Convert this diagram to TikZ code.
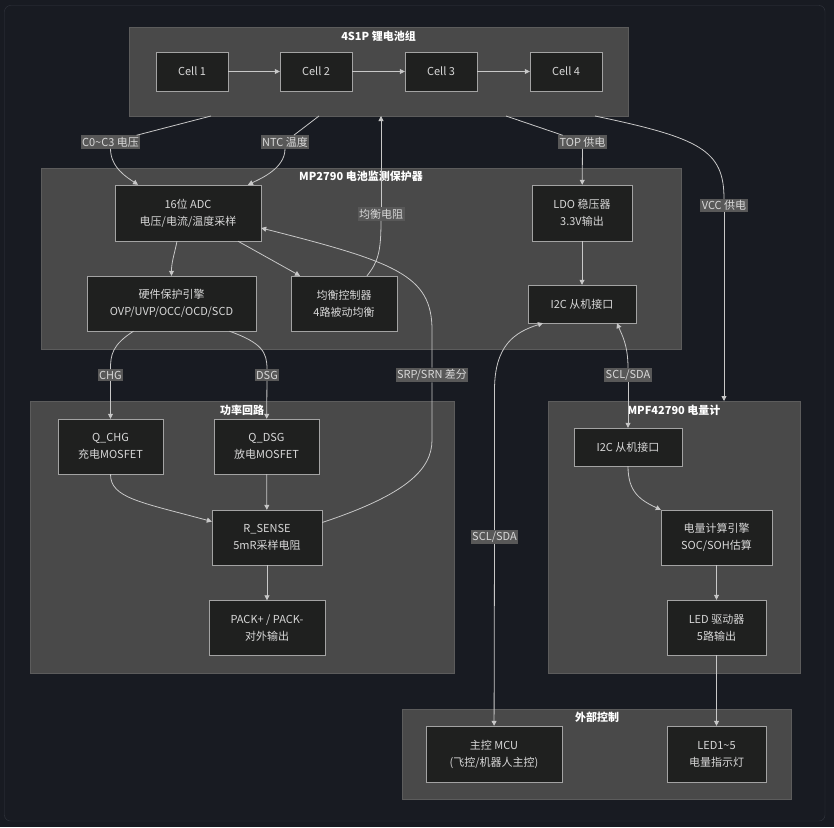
\documentclass[tikz,border=0pt]{standalone}
\usepackage{fontspec}
\setmainfont{Noto Sans CJK SC}
\usetikzlibrary{arrows.meta}
\definecolor{bg}{HTML}{181B22}
\definecolor{frame}{HTML}{33373F}
\definecolor{grpfill}{HTML}{494949}
\definecolor{grpline}{HTML}{5C5C5C}
\definecolor{boxfill}{HTML}{1F201F}
\definecolor{boxline}{HTML}{A3A3A3}
\definecolor{txt}{HTML}{D8D8D8}
\definecolor{edge}{HTML}{C8C8C8}
\definecolor{lblfill}{HTML}{585858}
\begin{document}
\begin{tikzpicture}[x=1pt,y=-1pt,
    font=\fontsize{11}{17}\selectfont,
    grp/.style={draw=grpline,fill=grpfill,inner sep=0pt},
    ttl/.style={text=white,inner sep=1pt,font=\fontsize{11}{17}\selectfont\bfseries},
    box/.style={draw=boxline,fill=boxfill,text=txt,align=center,minimum height=55pt,inner sep=0pt},
    lbl/.style={fill=lblfill,text=txt,inner sep=1.5pt},
    ln/.style={draw=edge,line width=0.8pt},
    arr/.style={ln,-{Triangle[length=5pt,width=5pt]}}]
    \fill[bg] (0,0) rectangle (834,827);
    \draw[frame,rounded corners=6pt] (4.5,5.5) rectangle (825,821);

    \node[grp,minimum width=499pt,minimum height=89pt] (gb) at (378.5,71.5) {};
    \node[ttl] (tb) at (378.5,36) {4S1P 锂电池组};
    \node[grp,minimum width=640pt,minimum height=181pt] (gm) at (361,258.5) {};
    \node[ttl] (tm) at (361,176) {MP2790 电池监测保护器};
    \node[grp,minimum width=424pt,minimum height=272pt] (gp) at (242,537) {};
    \node[ttl] (tp) at (242,410) {功率回路};
    \node[grp,minimum width=252pt,minimum height=272pt] (gf) at (674,537) {};
    \node[ttl] (tf) at (674,410) {MPF42790 电量计};
    \node[grp,minimum width=389pt,minimum height=90pt] (ge) at (596.5,754) {};
    \node[ttl] (te) at (597,717) {外部控制};

    \node[box,minimum width=72pt,minimum height=39pt] (c1) at (192,71.5) {Cell 1};
    \node[box,minimum width=72pt,minimum height=39pt] (c2) at (316,71.5) {Cell 2};
    \node[box,minimum width=72pt,minimum height=39pt] (c3) at (441,71.5) {Cell 3};
    \node[box,minimum width=72pt,minimum height=39pt] (c4) at (566,71.5) {Cell 4};
    \node[box,minimum width=146pt,minimum height=56pt] (adc) at (188,213) {16位 ADC\\电压/电流/温度采样};
    \node[box,minimum width=169pt] (prot) at (171.5,303.5) {硬件保护引擎\\OVP/UVP/OCC/OCD/SCD};
    \node[box,minimum width=106pt] (bal) at (344,303.5) {均衡控制器\\4路被动均衡};
    \node[box,minimum width=100pt,minimum height=56pt] (ldo) at (582,213) {LDO 稳压器\\3.3V输出};
    \node[box,minimum width=108pt,minimum height=38pt] (ia) at (582,304) {I2C 从机接口};
    \node[box,minimum width=105pt] (qc) at (110.5,446.5) {Q\_CHG\\充电MOSFET};
    \node[box,minimum width=105pt] (qd) at (266.5,446.5) {Q\_DSG\\放电MOSFET};
    \node[box,minimum width=110pt] (rs) at (267,537.5) {R\_SENSE\\5mR采样电阻};
    \node[box,minimum width=116pt] (pk) at (267,628) {PACK+ / PACK-\\对外输出};
    \node[box,minimum width=108pt,minimum height=38pt] (ib) at (628,447) {I2C 从机接口};
    \node[box,minimum width=111pt] (soc) at (716.5,537.5) {电量计算引擎\\SOC/SOH估算};
    \node[box,minimum width=99pt] (drv) at (716.5,627.5) {LED 驱动器\\5路输出};
    \node[box,minimum width=136pt,minimum height=56pt] (mcu) at (494,754) {主控 MCU\\(飞控/机器人主控)};
    \node[box,minimum width=99pt,minimum height=56pt] (led) at (716.5,754) {LED1\textasciitilde5\\电量指示灯};

    \node[lbl] (l1) at (110.5,142) {C0\textasciitilde{}C3 电压};
    \node[lbl] (l2) at (285,142) {NTC 温度};
    \node[lbl] (l3) at (582.5,142) {TOP 供电};
    \node[lbl] (l4) at (724,205.5) {VCC 供电};
    \node[lbl] (l5) at (381,214) {均衡电阻};
    \node[lbl] (l6) at (110.5,375) {CHG};
    \node[lbl] (l7) at (267,375) {DSG};
    \node[lbl] (l8) at (432,375) {SRP/SRN 差分};
    \node[lbl] (l9) at (628,375) {SCL/SDA};
    \node[lbl] (l10) at (494.5,537) {SCL/SDA};

    \coordinate (b1) at (211,116);
    \coordinate (b2) at (319,116);
    \coordinate (b3) at (381,116);
    \coordinate (b4) at (506,116);
    \coordinate (b5) at (595,116);
    \coordinate (f1) at (724,401);

    \draw[arr] (c1) -- (c2);
    \draw[arr] (c2) -- (c3);
    \draw[arr] (c3) -- (c4);
    \draw[ln] (b1) -- (l1);
    \draw[arr] (l1.south) .. controls (110.5,168) and (128,178) .. ([xshift=-50pt]adc.north);
    \draw[ln] (b2) -- (l2);
    \draw[arr] (l2.south) .. controls (285,168) and (262,178) .. ([xshift=60pt]adc.north);
    \draw[ln] (b4) -- (l3);
    \draw[arr] (l3) -- (ldo);
    \draw[ln] (b5) .. controls (700,138) and (724,150) .. (l4.north);
    \draw[arr] (l4) -- (f1);
    \draw[ln] ([xshift=23pt]bal.north) .. controls (378,262) and (381,252) .. (l5.south);
    \draw[arr] (l5) -- (b3);
    \draw[arr] ([xshift=-11pt]adc.south) .. controls (174,256) and (171.5,262) .. (prot.north);
    \draw[arr] ([xshift=50pt]adc.south) -- ([xshift=-44pt]bal.north);
    \draw[arr] (ldo) -- (ia);
    \draw[ln] ([xshift=-38pt]prot.south) .. controls (112,345) and (110.5,355) .. (l6.north);
    \draw[arr] (l6) -- (qc);
    \draw[ln] ([xshift=58pt]prot.south) .. controls (262,343) and (267,352) .. (l7.north);
    \draw[arr] (l7) -- (qd);
    \draw[ln] ([yshift=15pt]rs.east) .. controls (405,495) and (432,470) .. (432,440) -- (l8.south);
    \draw[arr] (l8.north) -- (432,330) .. controls (432,275) and (395,262) .. ([yshift=-15pt]adc.east);
    \draw[arr] (qc.south) .. controls (110.5,498) and (140,502) .. ([yshift=16pt]rs.west);
    \draw[arr] (qd) -- (rs);
    \draw[arr] (rs) -- (pk);
    \draw[arr] (l10) -- (mcu);
    \draw[arr] (l10.north) -- (494.5,390) .. controls (494.5,345) and (515,332) .. ([xshift=-39pt]ia.south);
    \draw[arr] (l9.north) .. controls (628,345) and (622,335) .. ([xshift=35pt]ia.south);
    \draw[arr] (l9) -- (ib);
    \draw[arr] (ib.south) .. controls (628,492) and (640,500) .. (soc.north west);
    \draw[arr] (soc) -- (drv);
    \draw[arr] (drv) -- (led);
\end{tikzpicture}
\end{document}
